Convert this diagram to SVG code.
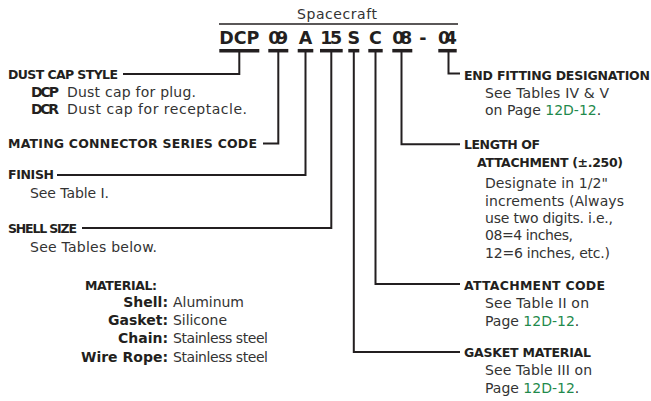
<svg xmlns="http://www.w3.org/2000/svg" width="651" height="401" viewBox="0 0 651 401">
<style>
text{font-family:"DejaVu Sans","Liberation Sans",sans-serif}
.h{font-weight:bold;font-size:12.5px;fill:#231f20}
.t{font-size:14px;fill:#333333}
.tb{font-weight:bold;font-size:14px;fill:#231f20}
.ml{font-weight:bold;font-size:14px;fill:#231f20;text-anchor:end}
.code{font-weight:bold;font-size:17.5px;fill:#231f20;text-anchor:middle}
.g{fill:#1f8a4c}
.ln{fill:none;stroke:#231f20;stroke-width:2;stroke-linejoin:miter;stroke-linecap:butt}
.bar{stroke:#231f20;stroke-width:3.5}
</style>
<rect width="651" height="401" fill="#ffffff"/>
<g id="part-number">
<text x="337" y="18.5" text-anchor="middle" class="t" font-size="13" textLength="80">Spacecraft</text>
<line x1="219" y1="24" x2="458" y2="24" stroke="#231f20" stroke-width="1.3"/>
<text class="code" x="239.3" y="43.5" textLength="40">DCP</text>
<text class="code" x="278.3" y="43.5" textLength="20">09</text>
<text class="code" x="305.5" y="43.5" textLength="16">A</text>
<text class="code" x="331.3" y="43.5" textLength="22">15</text>
<text class="code" x="353.8" y="43.5" textLength="11">S</text>
<text class="code" x="375.5" y="43.5" textLength="15">C</text>
<text class="code" x="402.3" y="43.5" textLength="20">08</text>
<text class="code" x="423" y="43.5">-</text>
<text class="code" x="447.5" y="43.5" textLength="19">04</text>
<line class="bar" x1="219.3" y1="50.7" x2="259.3" y2="50.7"/>
<line class="bar" x1="268.3" y1="50.7" x2="288.3" y2="50.7"/>
<line class="bar" x1="297.7" y1="50.7" x2="313.3" y2="50.7"/>
<line class="bar" x1="320" y1="50.7" x2="342.7" y2="50.7"/>
<line class="bar" x1="348.3" y1="50.7" x2="359.3" y2="50.7"/>
<line class="bar" x1="368.3" y1="50.7" x2="382.7" y2="50.7"/>
<line class="bar" x1="392.3" y1="50.7" x2="412.3" y2="50.7"/>
<line class="bar" x1="438.3" y1="50.7" x2="456.7" y2="50.7"/>
</g>
<g id="connectors">
<polyline class="ln" points="239.3,52 239.3,74 123,74"/>
<polyline class="ln" points="278.3,52 278.3,143.5 263,143.5"/>
<polyline class="ln" points="305.5,52 305.5,175 57,175"/>
<polyline class="ln" points="331.3,52 331.3,228 82,228"/>
<polyline class="ln" points="353.8,52 353.8,352 460,352"/>
<polyline class="ln" points="375.5,52 375.5,284 460,284"/>
<polyline class="ln" points="401.5,52 401.5,144.3 460,144.3"/>
<polyline class="ln" points="448.5,52 448.5,73.5 460,73.5"/>
</g>
<g id="dust-cap-style">
<text class="h" x="8" y="79" textLength="110">DUST CAP STYLE</text>
<text class="tb" x="31" y="97" textLength="28">DCP</text>
<text class="t" x="67" y="97" textLength="129">Dust cap for plug.</text>
<text class="tb" x="31" y="114" textLength="28">DCR</text>
<text class="t" x="67" y="114" textLength="180">Dust cap for receptacle.</text>
</g>
<g id="mating-connector">
<text class="h" x="8" y="147.5" textLength="249">MATING CONNECTOR SERIES CODE</text>
</g>
<g id="finish">
<text class="h" x="8" y="179" textLength="46">FINISH</text>
<text class="t" x="30" y="197.5" textLength="79">See Table I.</text>
</g>
<g id="shell-size">
<text class="h" x="8" y="233" textLength="69">SHELL SIZE</text>
<text class="t" x="30" y="252" textLength="127">See Tables below.</text>
</g>
<g id="material">
<text class="h" x="85" y="290" textLength="72">MATERIAL:</text>
<text class="ml" x="168" y="307">Shell:</text>
<text class="t" x="173" y="307" textLength="71">Aluminum</text>
<text class="ml" x="168" y="325">Gasket:</text>
<text class="t" x="173" y="325" textLength="54">Silicone</text>
<text class="ml" x="168" y="343">Chain:</text>
<text class="t" x="173" y="343" textLength="95">Stainless steel</text>
<text class="ml" x="168" y="361.5">Wire Rope:</text>
<text class="t" x="173" y="361.5" textLength="95">Stainless steel</text>
</g>
<g id="end-fitting">
<text class="h" x="464" y="80" textLength="186">END FITTING DESIGNATION</text>
<text class="t" x="485" y="97.5" textLength="124">See Tables IV &amp; V</text>
<text class="t" x="485" y="115">on Page <tspan class="g">12D-12</tspan>.</text>
</g>
<g id="length-of-attachment">
<text class="h" x="464" y="149" textLength="76">LENGTH OF</text>
<text class="h" x="477" y="167" textLength="146">ATTACHMENT (±.250)</text>
<text class="t" x="485" y="188" textLength="123">Designate in 1/2"</text>
<text class="t" x="485" y="205.5" textLength="139">increments (Always</text>
<text class="t" x="485" y="223" textLength="128">use two digits. i.e.,</text>
<text class="t" x="485" y="240" textLength="88">08=4 inches,</text>
<text class="t" x="485" y="257.5" textLength="125">12=6 inches, etc.)</text>
</g>
<g id="attachment-code">
<text class="h" x="464" y="289.5" textLength="141">ATTACHMENT CODE</text>
<text class="t" x="485" y="308" textLength="104">See Table II on</text>
<text class="t" x="485" y="325.5">Page <tspan class="g">12D-12</tspan>.</text>
</g>
<g id="gasket-material">
<text class="h" x="464" y="357" textLength="127">GASKET MATERIAL</text>
<text class="t" x="485" y="375" textLength="107">See Table III on</text>
<text class="t" x="485" y="393">Page <tspan class="g">12D-12</tspan>.</text>
</g>
</svg>
